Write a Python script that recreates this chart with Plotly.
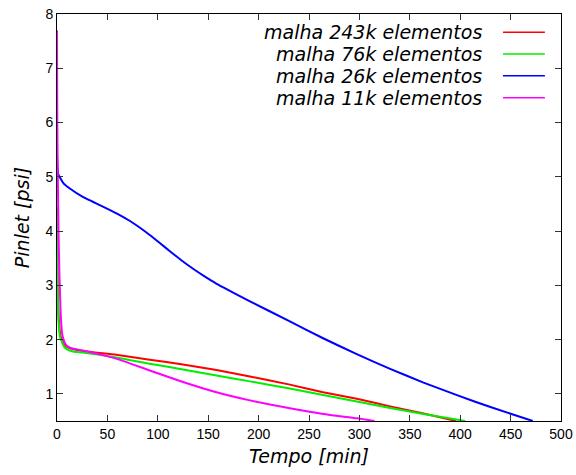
import plotly.graph_objects as go

# Inlet pressure versus time for four mesh refinements
labels = ["malha 243k elementos", "malha 76k elementos",
          "malha 26k elementos", "malha 11k elementos"]
colors = ["#ff0000", "#00ee00", "#0000ff", "#ff00ff"]

t_243k = [0, 0.3, 0.7, 1.2, 2, 3, 4.5, 6.5, 9, 13, 25.6, 58.8, 92, 125, 158.2,
          191.4, 231, 264, 297.4, 330.5, 363.6, 396]
p_243k = [4.3, 3.5, 3.0, 2.6, 2.3, 2.12, 2.0, 1.93, 1.88, 1.84, 1.79, 1.72, 1.63,
          1.54, 1.44, 1.32, 1.17, 1.03, 0.91, 0.77, 0.64, 0.50]

t_76k = [0, 0.3, 0.7, 1.2, 2, 3, 4.8, 7, 10, 16, 25.6, 58.8, 92, 125, 158.2,
         191.4, 231, 264, 297.4, 330.5, 363.6, 405]
p_76k = [4.45, 3.5, 2.9, 2.5, 2.2, 2.05, 1.96, 1.87, 1.82, 1.78, 1.76, 1.67, 1.555,
         1.45, 1.34, 1.23, 1.10, 0.98, 0.86, 0.74, 0.63, 0.50]

t_26k = [0, 0.5, 1.2, 2.5, 6.5, 12.4, 25.6, 35, 45.5, 60, 72, 82, 92, 102, 112,
         123, 135, 146, 158, 190, 231, 264, 297.4, 330.5, 363.6, 396.8, 430, 472]
p_26k = [5.4, 5.15, 5.05, 5.0, 4.88, 4.79, 4.63, 4.545, 4.452, 4.318, 4.19, 4.065,
         3.927, 3.779, 3.629, 3.468, 3.306, 3.17, 3.033, 2.72, 2.335, 2.025, 1.731,
         1.46, 1.208, 0.976, 0.757, 0.50]

t_11k = [0, 0.3, 0.8, 1.5, 2.4, 3.2, 3.8, 5.1, 6.5, 8.1, 10, 14, 25.6, 58.8, 92,
         125, 158.2, 191.4, 231, 264, 297.4, 315]
p_11k = [7.7, 6.0, 5.0, 4.0, 3.2, 2.72, 2.42, 2.11, 2.0, 1.93, 1.88, 1.84, 1.80,
         1.65, 1.43, 1.22, 1.03, 0.88, 0.735, 0.63, 0.55, 0.50]

x_ticks = [0, 50, 100, 150, 200, 250, 300, 350, 400, 450, 500]
y_ticks = [1, 2, 3, 4, 5, 6, 7, 8]

series = [(t_243k, p_243k), (t_76k, p_76k), (t_26k, p_26k), (t_11k, p_11k)]

fig = go.Figure()
for (t, p), name, c in zip(series, labels, colors):
    fig.add_trace(go.Scatter(x=t, y=p, mode="lines", name=name,
                             line=dict(color=c, width=2, shape="spline", smoothing=0.5),
                             showlegend=False))

tick_font = dict(family="Liberation Sans, Arial, sans-serif", size=14, color="#000")
ital_font = dict(family="DejaVu Sans, sans-serif", size=19, color="#000", style="italic")

axis_common = dict(showgrid=False, zeroline=False, showline=True, linecolor="#000",
                   linewidth=1, mirror="ticks", ticks="inside", ticklen=6,
                   tickcolor="#333", tickwidth=1, tickfont=tick_font,
                   automargin=False)

fig.update_xaxes(range=[0, 500], tickvals=x_ticks, ticktext=[str(v) for v in x_ticks],
                 title=dict(text="Tempo [min]", font=ital_font, standoff=8),
                 **axis_common)
fig.update_yaxes(range=[0.5, 8], tickvals=y_ticks, ticktext=[str(v) for v in y_ticks],
                 title=dict(text="Pinlet [psi]", font=ital_font, standoff=10),
                 **axis_common)

# Key in the top right corner: right-aligned label followed by a line sample
row_y = [0.955, 0.902, 0.848, 0.794]
for name, c, yy in zip(labels, colors, row_y):
    fig.add_annotation(xref="paper", yref="paper", x=0.847, y=yy, text=name,
                       showarrow=False, xanchor="right", yanchor="middle",
                       font=ital_font)
    fig.add_shape(type="line", xref="paper", yref="paper", x0=0.885, x1=0.968,
                  y0=yy, y1=yy, line=dict(color=c, width=1.5))

fig.update_layout(width=576, height=475, plot_bgcolor="#fff", paper_bgcolor="#fff",
                  margin=dict(l=57, r=15, t=14, b=54))

fig.write_html("out.html")
